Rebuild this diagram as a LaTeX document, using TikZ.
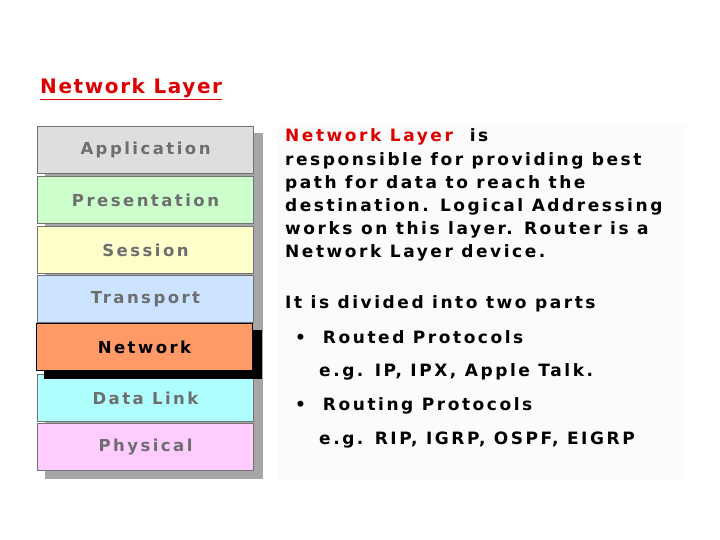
\documentclass[tikz,border=0pt]{standalone}
\usepackage{fontspec}
\setmainfont{DejaVu Sans}
\newfontfamily\wide[LetterSpace=15]{DejaVu Sans}
\newfontfamily\widet[LetterSpace=8]{DejaVu Sans}
\definecolor{cApp}{RGB}{222,222,222}
\definecolor{cPre}{RGB}{204,255,204}
\definecolor{cSes}{RGB}{255,255,204}
\definecolor{cTra}{RGB}{204,228,255}
\definecolor{cNet}{RGB}{255,153,102}
\definecolor{cDl}{RGB}{176,255,255}
\definecolor{cPhy}{RGB}{255,204,255}
\definecolor{cTx}{RGB}{110,110,110}
\definecolor{cRed}{RGB}{220,0,0}
\begin{document}
\begin{tikzpicture}[x=1pt,y=-1pt,
  layer/.style={draw=gray!90!black,line width=1.5pt,minimum width=216pt,minimum height=47pt,inner sep=0pt,font=\wide\bfseries\fontsize{16.5}{16.5}\selectfont,text=cTx},
  txt/.style={anchor=west,inner sep=0pt,font=\wide\bfseries\fontsize{17}{17}\selectfont}]
\useasboundingbox (0,0) rectangle (720,540);
\fill[white] (0,0) rectangle (720,540);
\fill[gray!3] (278,125) rectangle (685,480);
\node[anchor=west,inner sep=0pt,text=cRed,font=\widet\bfseries\fontsize{20}{20}\selectfont] (title) at (40,89) {\underline{Network Layer}};
\fill[gray!70] (45,133) rectangle (263,479);
\node[layer,fill=cApp] (app) at (145.5,150) {Application};
\node[layer,fill=cPre] (pre) at (145.5,200) {Presentation};
\node[layer,fill=cSes] (ses) at (145.5,250) {Session};
\node[layer,fill=cTra] (tra) at (145.5,299) {Transport};
\node[layer,fill=cDl] (dl) at (145.5,398) {Data Link};
\node[layer,fill=cPhy] (phy) at (145.5,447) {Physical};
\fill[black] (44,330) rectangle (262,379);
\node[layer,draw=black,fill=cNet,text=black] (net) at (144.5,347) {Network};
\node[txt] (l1) at (285,137) {\textcolor{cRed}{Network Layer} \ is};
\node[txt] (l2) at (285,161) {responsible for providing best};
\node[txt] (l3) at (285,184) {path for data to reach the};
\node[txt] (l4) at (285,207) {destination. Logical Addressing};
\node[txt] (l5) at (285,230) {works on this layer. Router is a};
\node[txt] (l6) at (285,253) {Network Layer device.};
\node[txt] (l7) at (285,304) {It is divided into two parts};
\node[txt] (b1) at (295,337) {•\ \ Routed Protocols};
\node[txt] (e1) at (319,372) {e.g. IP, IPX, Apple Talk.};
\node[txt] (b2) at (295,406) {•\ \ Routing Protocols};
\node[txt] (e2) at (319,440) {e.g. RIP, IGRP, OSPF, EIGRP};
\end{tikzpicture}
\end{document}
